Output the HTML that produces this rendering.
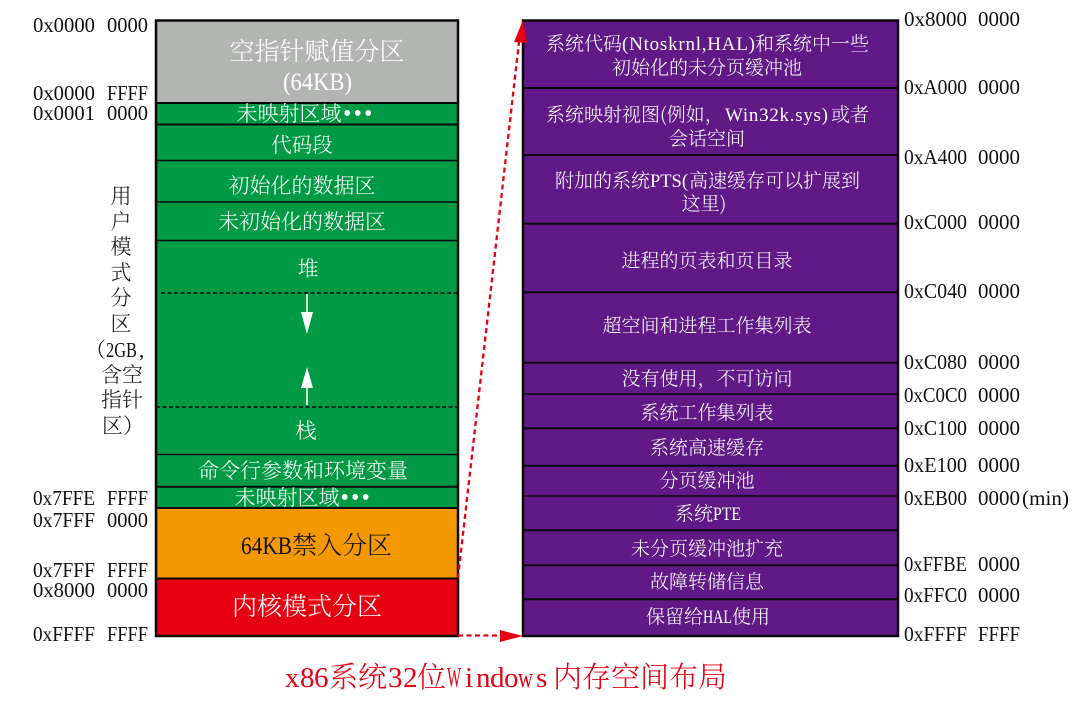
<!DOCTYPE html>
<html lang="zh"><head><meta charset="utf-8"><title>x86系统32位Windows内存空间布局</title>
<style>
html,body{margin:0;padding:0;background:#fff}
svg{display:block}
text{font-family:"Liberation Serif","Noto Serif CJK SC",serif;}
.c{font-family:"Noto Serif CJK SC","Liberation Serif",serif;font-weight:300;text-anchor:middle}
.s{font-family:"Noto Serif CJK SC","Liberation Serif",serif;font-weight:300;text-anchor:start}
.w{fill:#fff}
.a{font-size:21px;fill:#111}
</style></head><body>
<svg xmlns="http://www.w3.org/2000/svg" width="1085" height="702" viewBox="0 0 1085 702">
<!-- left stack -->
<rect x="156" y="20" width="302" height="83" fill="#b3b5b3"/>
<rect x="156" y="103" width="302" height="405" fill="#009a44"/>
<rect x="156" y="508" width="302" height="70" fill="#f39800"/>
<rect x="156" y="578" width="302" height="58" fill="#e60012"/>
<g stroke="#0a0a0a" fill="none">
<rect x="156" y="20.5" width="302" height="615.5" stroke-width="2.5"/>
<path d="M156 103H458M156 124.5H458M156 486.7H458M156 508H458M156 578.5H458" stroke-width="2"/>
<path d="M156 160.5H458M156 202H458M156 240.5H458M156 454.5H458" stroke-width="1.5"/>
<path d="M161 293H458M156 407H458" stroke-width="1.5" stroke-dasharray="4 2.5"/>
</g>
<!-- heap / stack arrows -->
<path d="M307 294V314M307 405V386" stroke="#fff" stroke-width="1.6"/>
<path d="M301 312H313L307 334ZM301 388H313L307 367Z" fill="#fff"/>
<!-- right stack -->
<rect x="523" y="20" width="375" height="616" fill="#601986"/>
<g stroke="#0a0a0a" fill="none">
<rect x="523" y="20.5" width="375" height="615.5" stroke-width="2.5"/>
<path d="M523 88H898M523 155H898M523 223.7H898M523 292.3H898M523 362.7H898M523 428.3H898M523 465.7H898M523 530.3H898M523 565.3H898M523 599.3H898" stroke-width="2"/>
<path d="M523 394H898M523 496H898" stroke-width="1.5"/>
</g>
<!-- red arrows -->
<path d="M458 578L519 42M458 635.5H501" stroke="#e60012" stroke-width="2.3" stroke-dasharray="5 3.5" fill="none"/>
<path d="M523 20L527 43L514 42ZM500 630V642L523 636Z" fill="#e60012"/>
<!-- left box labels -->
<text class="c w" x="317" y="60" font-size="25">空指针赋值分区</text>
<text class="w" x="283" y="90" font-size="25" textLength="69" lengthAdjust="spacingAndGlyphs">(64KB)</text>
<text class="c w" x="289" y="121" font-size="21">未映射区域</text>
<text class="w" x="343 353.5 364" y="121" font-size="24">•••</text>
<text class="c w" x="302" y="152" font-size="20.5">代码段</text>
<text class="c w" x="302" y="193" font-size="21">初始化的数据区</text>
<text class="c w" x="302" y="229" font-size="21">未初始化的数据区</text>
<text class="c w" x="308" y="276" font-size="21">堆</text>
<text class="c w" x="306" y="438" font-size="21">栈</text>
<text class="c w" x="303" y="478" font-size="21">命令行参数和环境变量</text>
<text class="c w" x="287" y="505" font-size="21">未映射区域</text>
<text class="w" x="340.5 351 361.5" y="505" font-size="24">•••</text>
<text x="241" y="554" font-size="25" fill="#111" textLength="51" lengthAdjust="spacingAndGlyphs">64KB</text>
<text class="c" x="342" y="554" font-size="25" fill="#111">禁入分区</text>
<text class="c w" x="307" y="615" font-size="25">内核模式分区</text>
<!-- vertical label -->
<g font-size="21" fill="#111">
<text class="c" x="121" y="203">用</text>
<text class="c" x="121" y="229">户</text>
<text class="c" x="121" y="254">模</text>
<text class="c" x="121" y="280">式</text>
<text class="c" x="121" y="305">分</text>
<text class="c" x="121" y="331">区</text>
<text y="357"><tspan class="s" x="85">（</tspan><tspan x="106" textLength="31" lengthAdjust="spacingAndGlyphs">2GB</tspan><tspan x="139">,</tspan></text>
<text class="c" x="122" y="382">含空</text>
<text class="c" x="122" y="407">指针</text>
<text class="s" x="102" y="433">区）</text>
</g>
<!-- left addresses -->
<g class="a">
<text class="a" y="32"><tspan x="33" textLength="62" lengthAdjust="spacingAndGlyphs">0x0000</tspan> <tspan x="107" textLength="41" lengthAdjust="spacingAndGlyphs">0000</tspan></text>
<text class="a" y="100"><tspan x="33" textLength="62" lengthAdjust="spacingAndGlyphs">0x0000</tspan> <tspan x="107" textLength="41" lengthAdjust="spacingAndGlyphs">FFFF</tspan></text>
<text class="a" y="120"><tspan x="33" textLength="62" lengthAdjust="spacingAndGlyphs">0x0001</tspan> <tspan x="107" textLength="41" lengthAdjust="spacingAndGlyphs">0000</tspan></text>
<text class="a" y="505"><tspan x="33" textLength="62" lengthAdjust="spacingAndGlyphs">0x7FFE</tspan> <tspan x="107" textLength="41" lengthAdjust="spacingAndGlyphs">FFFF</tspan></text>
<text class="a" y="527"><tspan x="33" textLength="62" lengthAdjust="spacingAndGlyphs">0x7FFF</tspan> <tspan x="107" textLength="41" lengthAdjust="spacingAndGlyphs">0000</tspan></text>
<text class="a" y="577"><tspan x="33" textLength="62" lengthAdjust="spacingAndGlyphs">0x7FFF</tspan> <tspan x="107" textLength="41" lengthAdjust="spacingAndGlyphs">FFFF</tspan></text>
<text class="a" y="597"><tspan x="33" textLength="62" lengthAdjust="spacingAndGlyphs">0x8000</tspan> <tspan x="107" textLength="41" lengthAdjust="spacingAndGlyphs">0000</tspan></text>
<text class="a" y="641"><tspan x="33" textLength="62" lengthAdjust="spacingAndGlyphs">0xFFFF</tspan> <tspan x="107" textLength="41" lengthAdjust="spacingAndGlyphs">FFFF</tspan></text>
</g>
<!-- right addresses -->
<g class="a">
<text class="a" y="26"><tspan x="904" textLength="63" lengthAdjust="spacingAndGlyphs">0x8000</tspan> <tspan x="978" textLength="42" lengthAdjust="spacingAndGlyphs">0000</tspan></text>
<text class="a" y="94"><tspan x="904" textLength="63" lengthAdjust="spacingAndGlyphs">0xA000</tspan> <tspan x="978" textLength="42" lengthAdjust="spacingAndGlyphs">0000</tspan></text>
<text class="a" y="164"><tspan x="904" textLength="63" lengthAdjust="spacingAndGlyphs">0xA400</tspan> <tspan x="978" textLength="42" lengthAdjust="spacingAndGlyphs">0000</tspan></text>
<text class="a" y="229"><tspan x="904" textLength="63" lengthAdjust="spacingAndGlyphs">0xC000</tspan> <tspan x="978" textLength="42" lengthAdjust="spacingAndGlyphs">0000</tspan></text>
<text class="a" y="298"><tspan x="904" textLength="63" lengthAdjust="spacingAndGlyphs">0xC040</tspan> <tspan x="978" textLength="42" lengthAdjust="spacingAndGlyphs">0000</tspan></text>
<text class="a" y="369"><tspan x="904" textLength="63" lengthAdjust="spacingAndGlyphs">0xC080</tspan> <tspan x="978" textLength="42" lengthAdjust="spacingAndGlyphs">0000</tspan></text>
<text class="a" y="402"><tspan x="904" textLength="63" lengthAdjust="spacingAndGlyphs">0xC0C0</tspan> <tspan x="978" textLength="42" lengthAdjust="spacingAndGlyphs">0000</tspan></text>
<text class="a" y="435"><tspan x="904" textLength="63" lengthAdjust="spacingAndGlyphs">0xC100</tspan> <tspan x="978" textLength="42" lengthAdjust="spacingAndGlyphs">0000</tspan></text>
<text class="a" y="472"><tspan x="904" textLength="63" lengthAdjust="spacingAndGlyphs">0xE100</tspan> <tspan x="978" textLength="42" lengthAdjust="spacingAndGlyphs">0000</tspan></text>
<text class="a" y="505"><tspan x="904" textLength="63" lengthAdjust="spacingAndGlyphs">0xEB00</tspan> <tspan x="978" textLength="42" lengthAdjust="spacingAndGlyphs">0000</tspan><tspan x="1022" textLength="47" lengthAdjust="spacing">(min)</tspan></text>
<text class="a" y="571"><tspan x="904" textLength="63" lengthAdjust="spacingAndGlyphs">0xFFBE</tspan> <tspan x="978" textLength="42" lengthAdjust="spacingAndGlyphs">0000</tspan></text>
<text class="a" y="602"><tspan x="904" textLength="63" lengthAdjust="spacingAndGlyphs">0xFFC0</tspan> <tspan x="978" textLength="42" lengthAdjust="spacingAndGlyphs">0000</tspan></text>
<text class="a" y="641"><tspan x="904" textLength="63" lengthAdjust="spacingAndGlyphs">0xFFFF</tspan> <tspan x="978" textLength="42" lengthAdjust="spacingAndGlyphs">FFFF</tspan></text>
</g>
<!-- right box labels -->
<g font-size="19" class="w">
<text class="w" y="50"><tspan class="s" x="546">系统代码</tspan><tspan x="622" textLength="133" lengthAdjust="spacing">(Ntoskrnl,HAL)</tspan><tspan class="s" x="755">和系统中一些</tspan></text>
<text class="c w" x="707" y="74">初始化的未分页缓冲池</text>
<text class="w" y="121"><tspan class="s" x="546">系统映射视图(例如，</tspan><tspan x="725" textLength="103" lengthAdjust="spacing">Win32k.sys)</tspan><tspan class="s" x="831">或者</tspan></text>
<text class="c w" x="707" y="145">会话空间</text>
<text class="w" y="187"><tspan class="s" x="555">附加的系统</tspan><tspan x="650" textLength="38" lengthAdjust="spacingAndGlyphs">PTS(</tspan><tspan class="s" x="689">高速缓存可以扩展到</tspan></text>
<text class="c w" x="704" y="210">这里)</text>
<text class="c w" x="707" y="267">进程的页表和页目录</text>
<text class="c w" x="707" y="332">超空间和进程工作集列表</text>
<text class="c w" x="707" y="385">没有使用，不可访问</text>
<text class="c w" x="707" y="419">系统工作集列表</text>
<text class="c w" x="707" y="454">系统高速缓存</text>
<text class="c w" x="707" y="487">分页缓冲池</text>
<text class="w" y="520"><tspan class="s" x="675">系统</tspan><tspan x="713" textLength="28" lengthAdjust="spacingAndGlyphs">PTE</tspan></text>
<text class="c w" x="707" y="555">未分页缓冲池扩充</text>
<text class="c w" x="707" y="588">故障转储信息</text>
<text class="w" y="623"><tspan class="s" x="646">保留给</tspan><tspan x="703" textLength="29" lengthAdjust="spacingAndGlyphs">HAL</tspan><tspan class="s" x="732">使用</tspan></text>
</g>
<!-- caption -->
<text y="687" font-size="29" fill="#e60012"><tspan x="285 300 314">x86</tspan><tspan class="s" x="329">系统</tspan><tspan x="388 403">32</tspan><tspan class="s" x="417">位</tspan><tspan x="447" textLength="14" lengthAdjust="spacingAndGlyphs">W</tspan><tspan x="465">i</tspan><tspan x="476">n</tspan><tspan x="490">d</tspan><tspan x="504">o</tspan><tspan x="518" textLength="15" lengthAdjust="spacingAndGlyphs">w</tspan><tspan x="536">s</tspan><tspan class="s" x="553">内存空间布局</tspan></text>
</svg>
</body></html>
